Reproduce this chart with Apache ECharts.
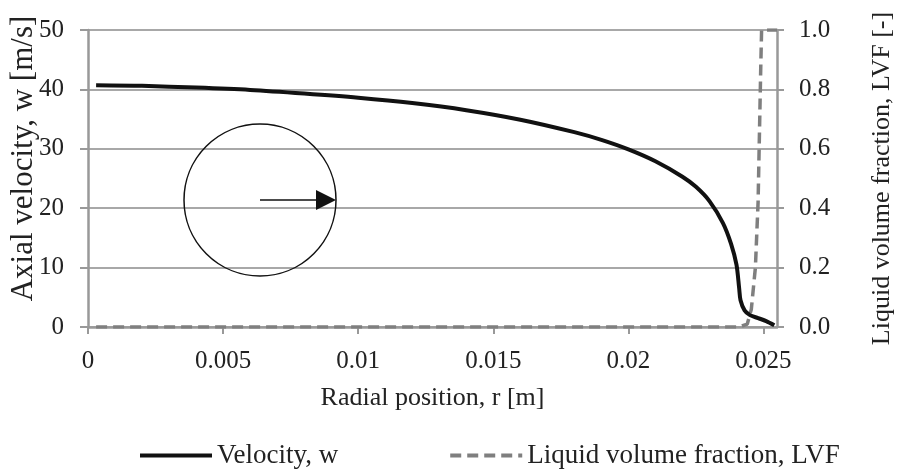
<!DOCTYPE html>
<html>
<head>
<meta charset="utf-8">
<script src="https://cdn.jsdelivr.net/npm/echarts@6/dist/echarts.min.js"></script>
<style>html,body{margin:0;padding:0;background:#fff;}#c{width:904px;height:476px;}</style>
</head>
<body>
<div id="c"></div>
<script>
// Radial position r [m] and axial velocity w [m/s]
var velR = [0.0003, 0.002, 0.004, 0.006, 0.008, 0.010, 0.012, 0.014, 0.016, 0.018, 0.019, 0.020, 0.021, 0.022, 0.0225, 0.023, 0.0235, 0.0238, 0.0240, 0.0241, 0.02415, 0.0243, 0.0245, 0.0248, 0.0251, 0.0254];
var velW = [40.7, 40.6, 40.3, 39.9, 39.3, 38.6, 37.7, 36.5, 34.9, 32.8, 31.5, 29.9, 27.9, 25.3, 23.6, 21.2, 17.5, 14.0, 10.5, 6.5, 4.5, 2.8, 2.0, 1.5, 1.0, 0.3];
// Liquid volume fraction LVF [-]
var lvfR = [0.0003, 0.005, 0.010, 0.015, 0.020, 0.0241, 0.0244, 0.02455, 0.0247, 0.0248, 0.02485, 0.0249, 0.02493, 0.0255];
var lvfV = [0, 0, 0, 0, 0, 0, 0.01, 0.06, 0.2, 0.42, 0.65, 0.88, 1.0, 1.0];
var xTicks = ['0', '0.005', '0.01', '0.015', '0.02', '0.025'];
var yLeftTicks = ['0', '10', '20', '30', '40', '50'];
var yRightTicks = ['0.0', '0.2', '0.4', '0.6', '0.8', '1.0'];

function pairs(a, b) { return a.map(function (v, i) { return [v, b[i]]; }); }

var FONT = '"Liberation Serif", "Times New Roman", serif';
var FS = 25;
var TXT = '#222';
var AX = '#999';

var chart = echarts.init(document.getElementById('c'), null, {renderer: 'canvas'});
chart.setOption({
  animation: false,
  backgroundColor: '#fff',
  textStyle: {fontFamily: FONT, color: TXT},
  grid: {left: 88, right: 127, top: 30, bottom: 149, containLabel: false, outerBoundsMode: 'none'},
  legend: {
    bottom: 2, left: 133, itemWidth: 72, itemHeight: 14, itemGap: 110,
    itemStyle: {opacity: 0},
    textStyle: {fontFamily: FONT, fontSize: 27, color: TXT, padding: [0, 0, 0, 0]},
    data: [
      {name: 'Velocity, w', lineStyle: {width: 4, color: '#111'}},
      {name: 'Liquid volume fraction, LVF', lineStyle: {width: 4, color: '#7f7f7f', type: [11, 6]}}
    ]
  },
  xAxis: {
    type: 'value', min: 0, max: 0.0255, interval: 0.005,
    name: 'Radial position, r [m]', nameLocation: 'middle', nameGap: 58, nameMoveOverlap: false,
    nameTextStyle: {fontFamily: FONT, fontSize: 26, color: TXT},
    axisLine: {show: true, lineStyle: {color: AX, width: 2.5}},
    axisTick: {show: true, inside: false, length: 7, lineStyle: {color: AX, width: 2}},
    splitLine: {show: false},
    axisLabel: {
      fontFamily: FONT, fontSize: FS, color: TXT, margin: 22, showMaxLabel: false,
      formatter: function (v) { var i = Math.round(v / 0.005); return xTicks[i] !== undefined ? xTicks[i] : ''; }
    }
  },
  yAxis: [{
    type: 'value', min: 0, max: 50, interval: 10, position: 'left',
    name: 'Axial velocity, w [m/s]', nameLocation: 'middle', nameGap: 49, nameRotate: 90, nameMoveOverlap: false,
    nameTextStyle: {fontFamily: FONT, fontSize: 31, color: TXT, padding: [0, 0, 0, 40]},
    axisLine: {show: true, lineStyle: {color: AX, width: 2.5}},
    axisTick: {show: true, inside: false, length: 8, lineStyle: {color: AX, width: 2}},
    splitLine: {show: true, lineStyle: {color: '#a8a8a8', width: 2}},
    axisLabel: {
      fontFamily: FONT, fontSize: FS, color: TXT, margin: 24,
      formatter: function (v) { return yLeftTicks[Math.round(v / 10)]; }
    }
  }, {
    type: 'value', min: 0, max: 1, interval: 0.2, position: 'right',
    name: 'Liquid volume fraction, LVF [-]', nameLocation: 'middle', nameGap: 92, nameRotate: 90, nameMoveOverlap: false,
    nameTextStyle: {fontFamily: FONT, fontSize: 26, color: TXT},
    axisLine: {show: true, lineStyle: {color: AX, width: 2.5}},
    axisTick: {show: true, inside: false, length: 7, lineStyle: {color: AX, width: 2}},
    splitLine: {show: false},
    axisLabel: {
      fontFamily: FONT, fontSize: FS, color: TXT, margin: 22,
      formatter: function (v) { return yRightTicks[Math.round(v / 0.2)]; }
    }
  }],
  series: [{
    name: 'Velocity, w', type: 'line', yAxisIndex: 0, showSymbol: false, symbol: 'none', smooth: 0.3,
    data: pairs(velR, velW), z: 3,
    lineStyle: {color: '#111', width: 4}, itemStyle: {color: '#111'}
  }, {
    name: 'Liquid volume fraction, LVF', type: 'line', yAxisIndex: 1, showSymbol: false, symbol: 'none',
    data: pairs(lvfR, lvfV), z: 2,
    lineStyle: {color: '#7f7f7f', width: 3.5, type: [11, 6]}, itemStyle: {color: '#7f7f7f'}
  }],
  graphic: [{
    type: 'circle', shape: {cx: 260, cy: 200, r: 76}, z: 10,
    style: {fill: 'none', stroke: '#111', lineWidth: 1.5}
  }, {
    type: 'line', shape: {x1: 260, y1: 200, x2: 318, y2: 200}, z: 10,
    style: {stroke: '#111', lineWidth: 1.5}
  }, {
    type: 'polygon', shape: {points: [[316, 190], [336, 200], [316, 210]]}, z: 10,
    style: {fill: '#111'}
  }]
});
</script>
</body>
</html>
